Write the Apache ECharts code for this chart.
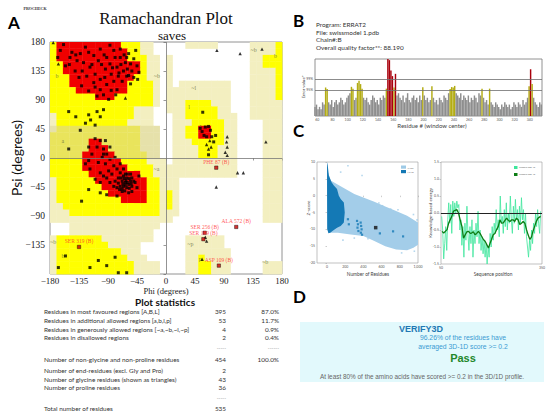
<!DOCTYPE html>
<html>
<head>
<meta charset="utf-8">
<script src="https://cdn.jsdelivr.net/npm/echarts@6/dist/echarts.min.js"></script>
<style>
html,body{margin:0;padding:0;background:#fff}
#fig{width:550px;height:417px}
</style>
</head>
<body>
<div id="fig"></div>
<script>
// ---------- A: Ramachandran plot ----------
// 10 deg cells, rows from psi 180 down, cols from phi -180; R core, Y allowed, L generous, O/K shaded band
var regionRows = [
  "YRRRRRRRRRRYYYLL.." + "...LLLLL.....LLLLY",
  "YRRRRRRRRRRRYYLL.." + ".............LLLLY",
  "YRRRRRRRRRRRYYYLL." + "L............LLYYY",
  "YYRRRRRRRRRRRRYLL." + "L............LLYYY",
  "YYRRRRRRRRRRRRYLL." + "L............LLLLY",
  "YYYRRRRRRRRRRYYLL." + "L............LLLLY",
  "YYYRRRRRRRRRYYYYL." + "L.LLLLLLLL...LLLLY",
  "YYYYRRRRRRRRYYYYL." + "LLLLLLLLLL...LLLLY",
  "YYYYYYYRRRYYYYYYL." + "LLLLLLLLLL...LLLLY",
  "YYYYYYYYYYYYYYYYL." + "LLLYYYYLLL...LLLLL",
  "YYYYYYYYYYYYYLLL.." + "LLLYYYYYLL...LLLLL",
  "LYYYYYYYYYYYYLLL.." + ".LLYYYYYLLL..LLLLL",
  "LYYYYYYYYYYYLLLL.." + ".LLLYYYYYLL....LLL",
  "KOOOOOOOOOOOOOKKK." + ".LLYYRRYYLL....LLL",
  "OOOOOOOOOOOOOOKKK." + ".LLYYRRYYLL....LLL",
  "OOOOOORROOOOOOKKK." + ".LLLYYYYYLL....LLL",
  "OOOOOORRROOOOOKKK." + ".LLLLYYYLLL....LLL",
  "OOOOORRRRROOOOOKK." + ".LLLLYYYLLL....LLL",
  "YYYYYRRRRRRYYYYLLL" + ".LLLLLLLLLL....LLL",
  "YYYYYRRRRRRRYYYYLL" + "LLLLLLLLLLL....LLL",
  "YYYYYYRRRRRRRRYYLL" + "LLLLLLLLLLL....LLL",
  "LYYYYYYRRRRRRRRYYL" + "LL.............LLL",
  "LYYYYYYYRRRRRRRYYL" + "LL.............LLL",
  "LYYYYYYYYRRRRRRYYL" + "YL.............LLL",
  "LYYYYYYYYYYRRRRYYL" + "YL.............LLL",
  "LLYYYYYYYYYYYYYYYL" + "YL.............LLL",
  "LLLYYYYYYYYYYYYYYL" + "LL.............LLL",
  "LLLLLLLLLLLLLLLLLL" + "L..............LLL",
  "...LLLLLLLLLLLLLL." + "..................",
  "...LLLLLLLLLLLLL.." + "..................",
  "LYYYYYYYLLLLLLLL.." + "...LLLLLL.........",
  "LYYYYYYYYLLLLL...." + "...LLLLLL.........",
  "LYYYYYYYYYYLLL...." + "...LLLLLLL........",
  "LYYYYYYYYYYYLLL..." + "...LLYLLLL........",
  "LYYYYYYYYYYYYLLLL." + "...LLYYLLL.....LLL",
  "LYYYYYYYYYYYYLLLL." + "...LLYYLLL.....LLL"
];

// [phi, psi] of non-glycine residues
var ramaResidues = [
  [-159,176],[-146,164],[-133,162],[-120,164],[-102,169],[-87,175],[-71,169],[-58,162],[-50,154],[-45,143],
  [-53,135],[-63,148],[-66,135],[-74,127],[-81,119],[-92,114],[-102,122],[-110,130],[-118,141],[-128,148],
  [-138,151],[-149,156],[-156,143],[-141,135],[-123,127],[-112,117],[-102,106],[-97,98],[-89,91],[-107,96],
  [-120,104],[-131,112],[-94,138],[-87,146],[-79,156],[-92,156],[-105,151],[-112,159],[-125,172],[-76,141],
  [-68,119],[-61,127],[-55,146],[-61,156],[-71,156],[-44,122],[-42,133],[-47,167],[-81,167],[-76,106],
  [-168,156],[-164,167],[-100,145],[-95,125],[-85,130],[-115,145],[-130,135],[-140,160],[-70,145],[-65,160],
  [-60,138],[-50,125],[-55,115],[-85,105],[-78,98],[-135,125],[-150,145],[-110,110],[-96,160],[-83,140],
  [-73,132],[-58,128],
  [-151,72],[-140,64],[-120,67],[-117,59],[-107,72],[-102,64],[-110,51],[-125,54],[-151,14],[-133,43],[-97,75],
  [-120,17],[-115,6],[-110,30],[-107,17],[-102,27],[-97,14],[-92,6],[-99,1],[-105,-7],[-94,-9],
  [-87,-2],[-81,-12],[-89,-20],[-84,-25],[-76,-17],[-74,-31],[-71,-23],[-79,-36],[-68,-36],[-66,-28],
  [-63,-38],[-61,-31],[-58,-41],[-66,-44],[-55,-36],[-61,-46],[-53,-44],[-71,-44],[-68,-52],[-58,-54],
  [-76,-46],[-63,-25],[-55,-25],[-50,-36],[-53,-52],[-74,-39],[-81,-44],[-87,-38],[-92,-31],[-97,-28],
  [-102,-23],[-118,-17],[-125,-9],[-120,-4],[-102,-38],[-110,-33],[-120,-49],[-131,-67],[-102,-54],[-92,-57],
  [-76,-59],[-97,6],[-79,1],[-87,17],[-94,27],[-71,-9],[-66,-17],[-62,-35],[-67,-40],[-60,-38],
  [-65,-32],[-57,-32],[-70,-31],[-63,-42],[-57,-47],[-68,-48],[-64,-51],[-54,-40],[-72,-49],[-60,-25],
  [-53,-31],[-48,-38],[-45,-46],[-42,-28],
  [-167,-170],[-156,-152],[-118,-170],[-105,-159],[-92,-167],[-79,-154],[-74,-178],[-61,-178],
  [57,71],[53,46],[56,41],[61,48],[66,49],[69,43],[63,33],[71,33],[74,25],[77,35],[59,35],[66,5]
];
// glycines (triangles)
var ramaGlycines = [
  [-175,179],[-167,146],[-63,93],[79,167],[115,162],[149,169],[95,33],[94,25],[95,17],[92,9],
  [95,4],[111,-23],[120,-23],[78,-45],[155,25],[61,-123],[63,-129],[56,-157],[68,27],[63,21],
  [70,17],[66,14]
];
var flaggedNames = ['PHE 87 (B)','ALA 572 (B)','SER 256 (B)','SER 199 (B)','ASP 109 (B)','SER 319 (B)'];
var flaggedPhiPsi = [[78,-15],[109,-107],[60,-116],[58,-126],[82,-167],[-135,-138]];
var regionTagNames = ['b','a','~b','~a','~l','l','L','~p','p','~b','b','~b','b','~b'];
var regionTagPhiPsi = [[-169,128],[-160,27],[-14,128],[-15,-17],[43,109],[36,79],[55,48],[38,-133],[53,-157],[-175,-131],[-160,-152],[136,168],[170,158],[154,-162]];

var statLabels = ['Residues in most favoured regions [A,B,L]','Residues in additional allowed regions [a,b,l,p]',
  'Residues in generously allowed regions [~a,~b,~l,~p]','Residues in disallowed regions','',
  'Number of non-glycine and non-proline residues','Number of end-residues (excl. Gly and Pro)',
  'Number of glycine residues (shown as triangles)','Number of proline residues','','Total number of residues'];
var statCounts = ['395','53','4','2','-----','454','2','43','36','-----','535'];
var statPcts = ['87.0%','11.7%','0.9%','0.4%','------','100.0%','','','','',''];

// ---------- B: ERRAT ----------
var erratInfo = ['Program: ERRAT2','File: swissmodel 1.pdb','Chain#:B','Overall quality factor**: 88.190'];
var erratFirstRes = 57, erratStep = 2;
var erratValues = [
  4,5,3,4,3,6,5, 12.5,11.8,
  6,5,7,4,6,7,5,6,8,7,5,6,8,9, 10, 12.8,11.9, 7,8, 14.5,15.5,14,12, 8,
  7,8,6,5,7,9,8,6,7,5,8,7,9, 8, 12, 25,24.5,20,17.5, 12.5, 18.5, 9,10,
  8,7,9,6,8,10,7,6,8,9,7,8,6,9,7, 12.6, 9, 7,8,6,7, 13, 8,
  6,7,5,8,7,6,9,8,7,10, 11.8,12.7,12.5,13.2, 10,
  9,8,10,7,9,8,7,9,6,8,7,9,8,6,10,9, 12, 8, 6,7,5, 12, 6,
  5,4,6,5,4,3,5,4,6,5,4,5,3,4,6,5,4,6,5,4,7,5,6,8, 13, 20.5, 14, 8, 6,5,4,6,5
];
var erratLimit95 = 11.5, erratLimit99 = 16.2;
var erratTicks = [60,80,100,120,140,160,180,200,220,240,260,280,300,320,340];

// ---------- C: ProSA ----------
var xrayCloud = [[10,7],[40,4.5],[150,2.8],[300,0.5],[420,-0.8],[520,-1.8],[640,-3.2],[740,-4.3],[880,-6],[1000,-8],
  [1000,-14.6],[950,-15.5],[880,-16.2],[760,-16],[640,-15],[520,-13.5],[400,-12],[260,-11.5],[120,-11],[30,-11],[0,-10],[0,5]];
var nmrCloud = [[0,10],[8,9],[20,6],[50,4],[75,3],[110,2],[130,0],[150,-1],[185,-2],[195,-5],[185,-8],[150,-9],
  [110,-9.5],[60,-10.5],[35,-11],[15,-11.2],[3,-10],[1,0]];
var xrayOutliers = [[230,8.9],[385,6],[150,7],[570,-2.2],[610,-3],[700,-4],[780,-4.2],[860,-6.2],[950,-5.6],[990,-7.2],
  [175,-13.2],[960,-16.5],[820,-17],[300,-12.6],[450,-12.8]];
var nmrExtra = [[330,-7.5],[340,-8.5],[335,-9.5],[345,-10.5],[370,-8],[375,-9],[380,-10],[372,-11],[385,-11.6],
  [230,-7],[240,-8.5],[581,-11.2],[726,-10.6],[836,-12.1]];
var modelZ = [[535,-9.5]];
var zTicks = [0,200,400,600,800,1000];

var energyWin10 = [[52,-0.1],[55,-0.5],[58,-1.35],[61,-0.9],[64,-0.4],[67,-1.1],[70,-0.2],[73,0.3],[76,-0.3],[79,0.25],
  [82,-0.6],[85,0.35],[88,-0.1],[91,0.3],[94,0],[97,0.35],[100,0.15],[103,0.25],[106,-0.5],[109,-0.2],
  [112,-0.95],[115,-0.4],[118,-1.3],[121,-0.3],[124,-0.8],[127,0.2],[130,-0.6],[133,-1.1],[136,-0.4],[139,-0.9],
  [142,-0.2],[145,-1.3],[148,-0.5],[151,-0.9],[154,-0.3],[157,-0.7],[160,0.05],[163,-0.9],[166,-0.5],[169,-1.1],
  [172,-0.7],[175,-1.2],[178,-0.8],[181,-1.3],[184,-0.9],[187,-1.5],[190,-1],[193,-1.3],[196,-0.6],[199,-1],
  [202,-0.4],[205,-0.8],[208,-0.3],[211,-0.6],[214,0.1],[217,-0.5],[220,-0.2],[223,-0.7],[226,0.5],[229,-0.3],
  [232,-0.1],[235,-0.6],[238,0.1],[241,-0.4],[244,0.3],[247,-0.5],[250,0],[253,-0.3],[256,0.5],[259,-0.2],
  [262,-0.6],[265,0.2],[268,-0.3],[271,0.4],[274,-0.2],[277,0.1],[280,-0.5],[283,0.2],[286,-0.3],[289,0.45],
  [292,-0.2],[295,0.1],[298,-0.6],[301,0],[304,-0.7],[307,-1],[310,-1.3],[313,-0.8],[316,-1.1],[319,-0.5],
  [322,-0.9],[325,-0.3],[328,-0.6],[331,0],[334,-0.4],[337,0.1],[340,-0.3],[343,-0.6],[346,0.05]];
var energyWin40 = [[53,-0.54],[58,-0.59],[68,-0.49],[73,-0.29],[82,-0.1],[87,0.05],[92,0.08],[97,0.1],[102,0],[107,-0.2],
  [112,-0.39],[117,-0.74],[122,-0.64],[127,-0.55],[132,-0.54],[137,-0.6],[141,-0.59],[146,-0.55],[151,-0.64],[156,-0.6],
  [161,-0.54],[166,-0.6],[171,-0.69],[176,-0.78],[181,-0.83],[186,-0.93],[191,-1.03],[196,-0.88],[200,-0.78],[205,-0.64],
  [210,-0.6],[215,-0.49],[220,-0.4],[225,-0.2],[230,-0.3],[235,-0.29],[240,-0.22],[245,-0.15],[250,-0.22],[255,-0.25],
  [260,-0.2],[264,-0.2],[269,-0.25],[274,-0.15],[279,-0.2],[284,-0.34],[289,-0.3],[294,-0.25],[299,-0.3],[304,-0.49],
  [309,-0.65],[314,-0.78],[319,-0.7],[323,-0.54],[328,-0.4],[333,-0.25],[338,-0.15],[346,-0.1]];

// ---------- D: Verify3D ----------
var verifyLines = ['VERIFY3D','96.26% of the residues have','averaged 3D-1D score >= 0.2','Pass',
  'At least 80% of the amino acids have scored >= 0.2 in the 3D/1D profile.'];

// ================= build =================
var SERIF = 'Liberation Serif', CAL = 'Lato', ARIAL = 'Liberation Sans';
var regionCodes = 'RYLOK';
var regionColors = ['#f00000', '#ffff00', '#f3efc0', '#e9e45c', '#e6e1aa'];

var cells = [];
regionRows.forEach(function (row, r) {
  for (var c = 0; c < row.length; c++) {
    var k = regionCodes.indexOf(row[c]);
    if (k >= 0) cells.push([-180 + 10 * c, 170 - 10 * r, k]);
  }
});

var erratData = erratValues.map(function (v, i) { return [erratFirstRes + erratStep * i, v]; });

function minus(v) { return v < 0 ? '\u2212' + Math.abs(v) : String(v); }

function polygonItem(points, color) {
  return function (params, api) {
    if (params.dataIndex !== 0) return;
    return {
      type: 'polygon',
      shape: { points: points.map(function (p) { return api.coord(p); }) },
      style: { fill: color }
    };
  };
}

function txt(x, y, s, font, fill, align, extra) {
  var o = {
    type: 'text', x: x, y: y, z: 20, silent: true,
    style: { text: s, font: font, fill: fill || '#000', align: align || 'left', verticalAlign: 'middle',
             textAlign: align || 'left', textVerticalAlign: 'middle' }
  };
  if (extra) for (var k in extra) o[k] = extra[k];
  return o;
}

var tinyAxis = { fontFamily: CAL, fontSize: 3.5, color: '#555', margin: 2 };

var graphics = [
  { type: 'rect', z: 1, silent: true, shape: { x: 300, y: 322, width: 244, height: 60 }, style: { fill: '#e2f9fc' } },
  txt(35, 8, 'PROCHECK', 'bold 4px ' + SERIF, '#333', 'center'),
  txt(8, 22, 'A', 'bold 17px ' + CAL, '#000'),
  txt(293, 20, 'B', 'bold 17px ' + CAL, '#000'),
  txt(293, 130, 'C', 'bold 17px ' + CAL, '#000'),
  txt(293, 296, 'D', 'bold 17px ' + CAL, '#000'),
  txt(166, 18, 'Ramachandran Plot', '17px ' + SERIF, '#111', 'center'),
  txt(172, 35, 'saves', '13px ' + SERIF, '#111', 'center'),
  txt(16, 158, 'Psi (degrees)', '14px ' + CAL, '#111', 'center', { rotation: Math.PI / 2 }),
  txt(166, 291, 'Phi (degrees)', '8.5px ' + SERIF, '#222', 'center'),
  txt(165, 301.5, 'Plot statistics', 'bold 10px ' + CAL, '#111', 'center')
];

var statRowY = [311.7, 320.3, 329, 337.7, 348.3, 359.3, 370.7, 379.3, 387.3, 398.3, 408.3];
statLabels.forEach(function (s, i) {
  var dash = statCounts[i].charAt(0) === '-';
  if (s) graphics.push(txt(44, statRowY[i], s, '6.4px ' + CAL, '#333'));
  graphics.push(txt(226, statRowY[i], statCounts[i], (dash ? '5px ' : '6.4px ') + CAL, dash ? '#999' : '#333', 'right'));
  if (statPcts[i]) graphics.push(txt(279, statRowY[i], statPcts[i], (dash ? '5px ' : '6.4px ') + CAL, dash ? '#999' : '#333', 'right'));
});

var erratInfoY = [24, 32, 39.5, 47.3];
erratInfo.forEach(function (s, i) { graphics.push(txt(316, erratInfoY[i], s, '6.4px ' + CAL, '#333')); });
graphics.push(
  txt(303, 87, 'Error value*', '4.5px ' + CAL, '#444', 'center', { rotation: Math.PI / 2 }),
  txt(432, 125, 'Residue # (window center)', '6px ' + CAL, '#444', 'center'),
  txt(308, 208, 'Z-score', '4.5px ' + CAL, '#444', 'center', { rotation: Math.PI / 2 }),
  txt(368, 274, 'Number of Residues', '4.8px ' + CAL, '#444', 'center'),
  txt(430, 213, 'Knowledge-based energy', '4.5px ' + CAL, '#444', 'center', { rotation: Math.PI / 2 }),
  txt(493, 274, 'Sequence position', '4.8px ' + CAL, '#444', 'center'),
  { type: 'rect', z: 20, silent: true, shape: { x: 401, y: 165.5, width: 5, height: 3.2 }, style: { fill: '#9ecae6' } },
  { type: 'rect', z: 20, silent: true, shape: { x: 401, y: 170, width: 5, height: 3.2 }, style: { fill: '#1478b4' } },
  txt(407.5, 167.2, 'X-ray', '2.6px ' + CAL, '#555'),
  txt(407.5, 171.7, 'NMR', '2.6px ' + CAL, '#555'),
  { type: 'rect', z: 20, silent: true, shape: { x: 514, y: 166, width: 3.5, height: 3 }, style: { fill: '#3ee69c' } },
  { type: 'rect', z: 20, silent: true, shape: { x: 514, y: 173, width: 3.5, height: 3 }, style: { fill: '#0d7d14' } },
  txt(519, 167.5, 'window size 10', '2.4px ' + CAL, '#666'),
  txt(519, 174.5, 'window size 40', '2.4px ' + CAL, '#666'),
  txt(421, 328.5, verifyLines[0], 'bold 9px ' + ARIAL, '#1f78b4', 'center'),
  txt(463, 337.7, verifyLines[1], '6.8px ' + ARIAL, '#3b9bd3', 'center'),
  txt(463, 346.3, verifyLines[2], '6.8px ' + ARIAL, '#3b9bd3', 'center'),
  txt(463, 358, verifyLines[3], 'bold 11px ' + ARIAL, '#22882a', 'center'),
  txt(422, 376, verifyLines[4], '6.4px ' + ARIAL, '#666', 'center')
);

var chart = echarts.init(document.getElementById('fig'), null, { renderer: 'svg' });
chart.setOption({
  animation: false,
  backgroundColor: '#fff',
  grid: [
    { left: 50, top: 42, width: 232, height: 232, show: true, borderColor: '#777', borderWidth: 0.8, backgroundColor: '#fff' },
    { left: 315, top: 59, width: 227, height: 57, show: true, borderColor: '#777', borderWidth: 0.8, backgroundColor: '#fff' },
    { left: 317, top: 162, width: 101, height: 101, show: true, borderColor: '#999', borderWidth: 0.6, backgroundColor: '#fff' },
    { left: 441, top: 162, width: 101, height: 102, show: true, borderColor: '#999', borderWidth: 0.6, backgroundColor: '#fff' }
  ],
  xAxis: [
    { gridIndex: 0, type: 'value', min: -180, max: 180, interval: 45, axisLine: { show: false }, splitLine: { show: false },
      axisTick: { show: true, length: 2.5, lineStyle: { color: '#555', width: 0.6 } },
      axisLabel: { fontFamily: SERIF, fontSize: 9, color: '#222', margin: 2, formatter: minus } },
    { gridIndex: 1, type: 'value', min: 57, max: 356, axisLine: { show: false }, splitLine: { show: false },
      axisTick: { show: false }, axisLabel: Object.assign({ customValues: erratTicks }, tinyAxis) },
    { gridIndex: 2, type: 'value', min: -110, max: 1000, axisLine: { show: false }, splitLine: { show: false },
      axisTick: { show: true, customValues: zTicks, length: 1.5, lineStyle: { color: '#999', width: 0.5 } },
      axisLabel: Object.assign({ customValues: zTicks }, tinyAxis) },
    { gridIndex: 3, type: 'value', min: 50, max: 350, axisLine: { show: false }, splitLine: { show: false },
      axisTick: { show: false }, axisLabel: Object.assign({ customValues: [50, 350] }, tinyAxis) }
  ],
  yAxis: [
    { gridIndex: 0, type: 'value', min: -180, max: 180, interval: 45, axisLine: { show: false }, splitLine: { show: false },
      axisTick: { show: true, length: 2.5, lineStyle: { color: '#555', width: 0.6 } },
      axisLabel: { fontFamily: SERIF, fontSize: 9.5, color: '#222', margin: 5,
        formatter: function (v) { return v === -180 ? '' : minus(v); } } },
    { gridIndex: 1, type: 'value', min: 0, max: 25, axisLine: { show: false }, splitLine: { show: false },
      axisTick: { show: false },
      axisLabel: Object.assign({ customValues: [erratLimit95, erratLimit99],
        formatter: function (v) { return v < 14 ? '95%' : '99%'; } }, tinyAxis) },
    { gridIndex: 2, type: 'value', min: -20, max: 10, interval: 5, axisLine: { show: false }, splitLine: { show: false },
      axisTick: { show: true, length: 1.5, lineStyle: { color: '#999', width: 0.5 } }, axisLabel: tinyAxis },
    { gridIndex: 3, type: 'value', min: -1.5, max: 1.5, interval: 0.5, axisLine: { show: false }, splitLine: { show: false },
      axisTick: { show: true, length: 1.5, lineStyle: { color: '#999', width: 0.5 } },
      axisLabel: Object.assign({ formatter: function (v) { return v.toFixed(1); } }, tinyAxis) }
  ],
  series: [
    { type: 'custom', xAxisIndex: 0, yAxisIndex: 0, silent: true, z: 1, data: cells,
      renderItem: function (params, api) {
        var a = api.coord([api.value(0), api.value(1) + 10]);
        var b = api.coord([api.value(0) + 10, api.value(1)]);
        return { type: 'rect', shape: { x: a[0], y: a[1], width: b[0] - a[0] + 0.4, height: b[1] - a[1] + 0.4 },
                 style: { fill: regionColors[api.value(2)] } };
      } },
    { type: 'scatter', xAxisIndex: 0, yAxisIndex: 0, z: 4, data: ramaResidues, symbol: 'rect', symbolSize: 3,
      itemStyle: { color: '#000' }, silent: true,
      markLine: { silent: true, symbol: ['none', 'none'], label: { show: false },
        lineStyle: { color: '#777', width: 0.8, type: 'solid' }, data: [{ xAxis: 0 }, { yAxis: 0 }] } },
    { type: 'scatter', xAxisIndex: 0, yAxisIndex: 0, z: 4, data: ramaGlycines, symbol: 'triangle', symbolSize: 3.4,
      itemStyle: { color: '#000' }, silent: true },
    { type: 'scatter', xAxisIndex: 0, yAxisIndex: 0, z: 5, silent: true,
      data: flaggedPhiPsi.map(function (p, i) { return { name: flaggedNames[i], value: p }; }),
      symbol: 'rect', symbolSize: 3.4, itemStyle: { color: '#c80000', borderColor: '#000', borderWidth: 0.5 },
      label: { show: true, position: 'top', distance: 1, formatter: '{b}', fontFamily: SERIF, fontSize: 5.5, color: '#ff2a2a' } },
    { type: 'scatter', xAxisIndex: 0, yAxisIndex: 0, z: 3, silent: true, symbolSize: 0,
      data: regionTagPhiPsi.map(function (p, i) { return { name: regionTagNames[i], value: p }; }),
      label: { show: true, position: 'inside', formatter: '{b}', fontFamily: SERIF, fontSize: 6, color: '#5d6a3a' } },

    { type: 'bar', xAxisIndex: 1, yAxisIndex: 1, data: erratData, barWidth: 1.45, silent: true,
      itemStyle: { color: function (p) {
        var v = p.value[1];
        return v > erratLimit99 ? '#a8000c' : (v > erratLimit95 ? '#b3ac14' : '#8e8e8e');
      } },
      markLine: { silent: true, symbol: ['none', 'none'], label: { show: false },
        lineStyle: { color: '#6e6e6e', width: 0.8, type: 'solid' },
        data: [{ yAxis: erratLimit95 }, { yAxis: erratLimit99 }] } },

    { type: 'custom', xAxisIndex: 2, yAxisIndex: 2, silent: true, z: 2, data: [[0, 0]], clip: true,
      renderItem: polygonItem(xrayCloud, '#a3cde9') },
    { type: 'custom', xAxisIndex: 2, yAxisIndex: 2, silent: true, z: 3, data: [[0, 0]], clip: true,
      renderItem: polygonItem(nmrCloud, '#1479b5') },
    { type: 'scatter', xAxisIndex: 2, yAxisIndex: 2, silent: true, z: 3, data: xrayOutliers, symbol: 'rect',
      symbolSize: 1.6, itemStyle: { color: '#a3cde9' } },
    { type: 'scatter', xAxisIndex: 2, yAxisIndex: 2, silent: true, z: 4, data: nmrExtra, symbol: 'rect',
      symbolSize: 2.2, itemStyle: { color: '#1479b5' } },
    { type: 'scatter', xAxisIndex: 2, yAxisIndex: 2, silent: true, z: 5, data: modelZ, symbol: 'rect',
      symbolSize: 3.5, itemStyle: { color: '#111' } },

    { type: 'line', xAxisIndex: 3, yAxisIndex: 3, silent: true, z: 3, data: energyWin10, showSymbol: false,
      lineStyle: { color: '#3ee69c', width: 0.8 } },
    { type: 'line', xAxisIndex: 3, yAxisIndex: 3, silent: true, z: 4, data: energyWin40, showSymbol: false,
      lineStyle: { color: '#0d7d14', width: 1.3 },
      markLine: { silent: true, symbol: ['none', 'none'], label: { show: false },
        lineStyle: { color: '#222', width: 1.2, type: 'solid' }, data: [{ yAxis: 0 }] } }
  ],
  graphic: graphics
});
</script>
</body>
</html>
